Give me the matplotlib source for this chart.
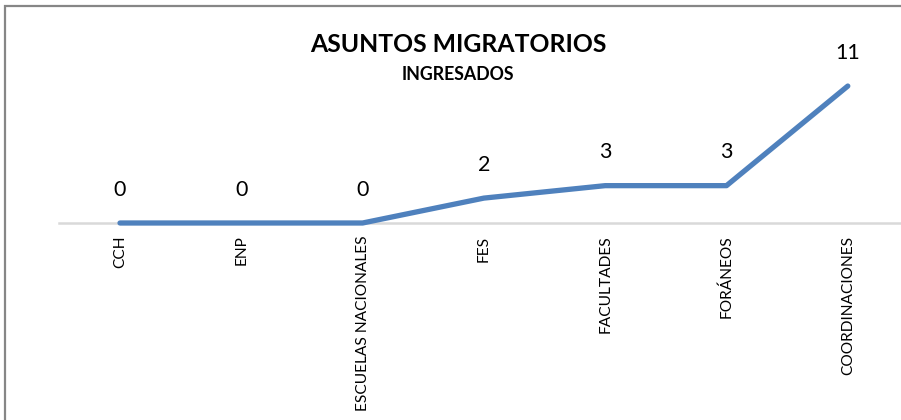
import matplotlib
matplotlib.use("Agg")
import matplotlib.pyplot as plt
from matplotlib.patches import Rectangle

categories = ["CCH", "ENP", "ESCUELAS NACIONALES", "FES", "FACULTADES", "FORÁNEOS", "COORDINACIONES"]
values = [0, 0, 0, 2, 3, 3, 11]

W, H = 901, 420
fig = plt.figure(figsize=(W / 100, H / 100), dpi=100)
plt.rcParams['font.family'] = ['Lato', 'DejaVu Sans']

# axes: x bands of ~121.3 px, first centre at 120px; y=0 at 223 px, 12.45 px per unit
band = 121.3
left_px = 120 - band / 2
right_px = left_px + band * len(categories)
bottom_px = 223
top_px = 10
ppu = 12.45
ax = fig.add_axes([left_px / W, 1 - bottom_px / H, (right_px - left_px) / W, (bottom_px - top_px) / H])
ax.set_xlim(-0.5, len(categories) - 0.5)
ax.set_ylim(0, (bottom_px - top_px) / ppu)

x = list(range(len(categories)))
ax.plot(x, values, color="#4F81BD", linewidth=3.8, solid_capstyle="round", solid_joinstyle="round", clip_on=False, zorder=3)
for xi, v in zip(x, values):
    ax.annotate(str(v), (xi, v), xytext=(0, 24), textcoords="offset points",
                ha="center", va="center", fontsize=15.5, color="black")

for s in ["top", "right", "left"]:
    ax.spines[s].set_visible(False)
ax.spines["bottom"].set_color("#D9D9D9")
ax.spines["bottom"].set_linewidth(1.8)
ax.set_yticks([])
ax.set_xticks(x)
ax.set_xticklabels(categories, rotation=90, fontsize=11.2, va="top", ha="center")
ax.tick_params(axis="x", length=0, pad=9)
ax.patch.set_alpha(0)

fig.text(458 / W, 1 - 45 / H, "ASUNTOS MIGRATORIOS", ha="center", va="center", fontsize=17.8, fontweight="bold")
fig.text(458 / W, 1 - 74 / H, "INGRESADOS", ha="center", va="center", fontsize=12.8, fontweight="bold")

fig.add_artist(Rectangle((5 / W, -0.1), 1.2, 1 - 6 / H + 0.1, transform=fig.transFigure,
                         fill=False, edgecolor="#868686", linewidth=1.6))

fig.savefig("out.png", dpi=100)
